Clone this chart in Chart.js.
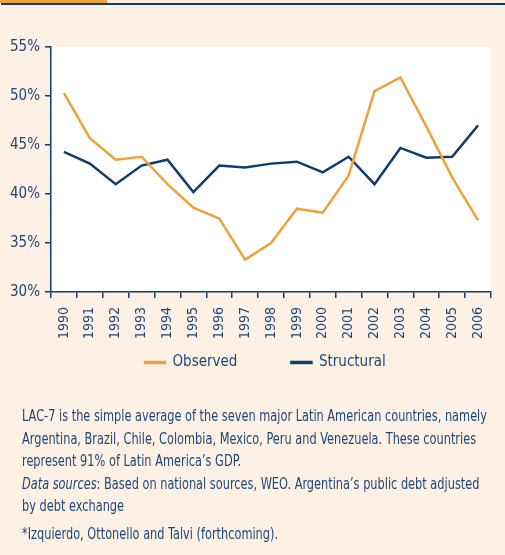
<!DOCTYPE html>
<html>
<head>
<meta charset="utf-8">
<script src="https://cdn.jsdelivr.net/npm/chart.js@4/dist/chart.umd.min.js"></script>
<style>
  html, body { margin: 0; padding: 0; }
  body { width: 505px; height: 555px; background: #fdf1e5; position: relative; overflow: hidden;
         font-family: "DejaVu Sans Condensed", "DejaVu Sans", sans-serif; font-stretch: condensed; color: #1d4678; }
  .bar-orange { position: absolute; left: 0; top: 0; width: 107px; height: 3px; background: #f0a23a; }
  .bar-navy { position: absolute; left: 1px; top: 3px; width: 504px; height: 2px; background: #0f3d6d; }
  .wrap { position: absolute; left: 0; top: 0; width: 505px; height: 440px; }
  .note { position: absolute; left: 22px; top: 405px; font-size: 15px; line-height: 22.5px; white-space: nowrap;
          transform-origin: 0 0; }
  .note span { display: inline-block; }
  .note .last { margin-top: 5px; }
</style>
</head>
<body>
<div class="bar-orange"></div>
<div class="bar-navy"></div>
<div class="wrap"><canvas id="grafico"></canvas></div>
<div class="note" id="nota">
  <span id="linha1">LAC-7 is the simple average of the seven major Latin American countries, namely</span><br>
  <span>Argentina, Brazil, Chile, Colombia, Mexico, Peru and Venezuela. These countries</span><br>
  <span>represent 91% of Latin America’s GDP.</span><br>
  <span><i>Data sources</i>: Based on national sources, WEO. Argentina’s public debt adjusted</span><br>
  <span>by debt exchange</span><br>
  <span class="last">*Izquierdo, Ottonello and Talvi (forthcoming).</span>
</div>
<script>
const anos = ["1990", "1991", "1992", "1993", "1994", "1995", "1996", "1997", "1998",
  "1999", "2000", "2001", "2002", "2003", "2004", "2005", "2006"]

let observado = [50.3, 45.7, 43.5, 43.8, 41.0, 38.6, 37.5, 33.3, 35.0, 38.5, 38.1, 41.9, 50.5, 51.9, 46.9, 41.7, 37.3]
let estrutural = [44.3, 43.1, 41.0, 42.9, 43.5, 40.2, 42.9, 42.7, 43.1, 43.3, 42.2, 43.8, 41.0, 44.7, 43.7, 43.8, 47.0]

const laranja = '#f0a23a'
const azul = '#0f3d6d'
const corTexto = '#1d4678'
const fonte = '"DejaVu Sans Condensed", "DejaVu Sans", sans-serif'
const espacoLegenda = 54

// squeeze the note so the first line is as wide as in the original
const nota = document.getElementById("nota")
const w1 = document.getElementById("linha1").getBoundingClientRect().width
nota.style.transform = 'scaleX(' + (465 / w1) + ')'

const fundoBranco = {
    id: 'fundoBranco',
    beforeDraw(chart) {
        const a = chart.chartArea
        chart.ctx.save()
        chart.ctx.fillStyle = '#ffffff'
        chart.ctx.fillRect(a.left, a.top, a.right - a.left, a.bottom - a.top)
        chart.ctx.restore()
    }
}

// legend padding is big for the gap between items, so pull it up and to the right
const moverLegenda = {
    id: 'moverLegenda',
    afterLayout(chart) {
        const lg = chart.legend
        const inicio = (lg.left + espacoLegenda + lg.right - lg.lineWidths[0]) / 2
        const dx = 145 - inicio
        lg.left += dx
        lg.right += dx
        const dy = 355 - espacoLegenda - lg.top
        lg.top += dy
        lg.bottom += dy
    }
}

new Chart(document.getElementById("grafico"), {
    type: 'line',
    data: {
        labels: anos,
        datasets: [{
            label: 'Observed',
            data: observado,
            borderColor: laranja,
            backgroundColor: laranja,
            borderWidth: 2.5,
            pointRadius: 0,
            tension: 0
        }, {
            label: 'Structural',
            data: estrutural,
            borderColor: azul,
            backgroundColor: azul,
            borderWidth: 2.5,
            pointRadius: 0,
            tension: 0
        }]
    },
    options: {
        responsive: true,
        maintainAspectRatio: false,
        animation: false,
        layout: { padding: { top: 47, right: 14, left: 0, bottom: 11 } },
        plugins: {
            legend: {
                position: 'bottom',
                labels: { boxWidth: 20, boxHeight: 1, padding: espacoLegenda, color: corTexto,
                          font: { family: fonte, size: 15 } }
            },
            tooltip: { enabled: false }
        },
        scales: {
            x: {
                offset: true,
                afterFit(scale) { scale.height = 58 },
                border: { color: azul, width: 1.5 },
                grid: { offset: true, drawOnChartArea: false, color: azul, tickLength: 6, lineWidth: 1.5 },
                ticks: { minRotation: 90, maxRotation: 90, padding: 9, color: corTexto,
                         font: { family: fonte, size: 14 } }
            },
            y: {
                min: 30,
                max: 55,
                afterFit(scale) { scale.width = 51 },
                border: { color: azul, width: 1.5 },
                grid: { drawOnChartArea: false, color: azul, tickLength: 6, lineWidth: 1.5 },
                ticks: { stepSize: 5, padding: 5, color: corTexto,
                         font: { family: fonte, size: 15 },
                         callback: v => v + '%' }
            }
        }
    },
    plugins: [fundoBranco, moverLegenda]
});
</script>
</body>
</html>
